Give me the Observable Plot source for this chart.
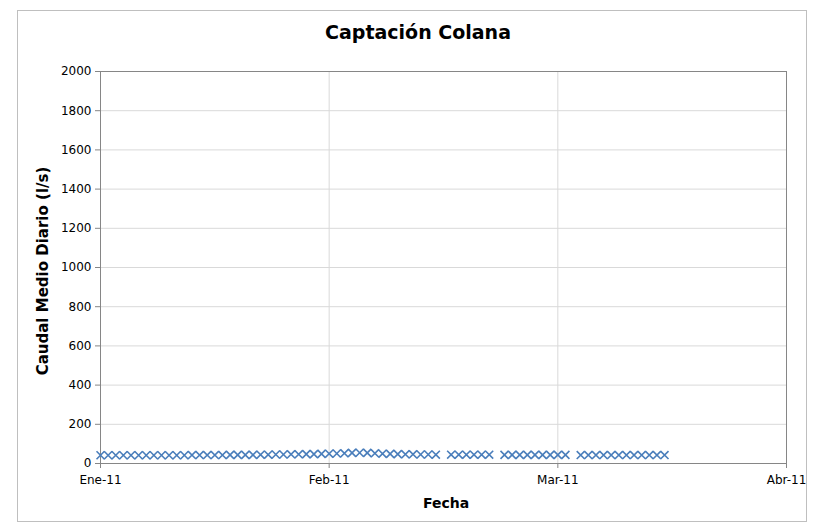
<!DOCTYPE html>
<html>
<head>
<meta charset="utf-8">
<script src="https://cdn.jsdelivr.net/npm/d3@7"></script>
<script src="https://cdn.jsdelivr.net/npm/@observablehq/plot@0.6"></script>
<style>
  body { margin: 0; background: #fff; }
  #wrap { position: relative; width: 819px; height: 530px; }
  #border { position: absolute; left: 17px; top: 10px; width: 790px; height: 512px; border: 1px solid #bfbfbf; box-sizing: border-box; }
  #chart { position: absolute; left: 0; top: 0; }
</style>
</head>
<body>
<div id="wrap"><div id="border"></div><div id="chart"></div></div>
<script>
const title = "Captación Colana";
const xLabel = "Fecha";
const yLabel = "Caudal Medio Diario (l/s)";

const dates = [
  "2011-01-02","2011-01-03","2011-01-04","2011-01-05","2011-01-06","2011-01-07","2011-01-08","2011-01-09","2011-01-10","2011-01-11",
  "2011-01-12","2011-01-13","2011-01-14","2011-01-15","2011-01-16","2011-01-17","2011-01-18","2011-01-19","2011-01-20","2011-01-21",
  "2011-01-22","2011-01-23","2011-01-24","2011-01-25","2011-01-26","2011-01-27","2011-01-28","2011-01-29","2011-01-30","2011-01-31",
  "2011-02-01","2011-02-02","2011-02-03","2011-02-04","2011-02-05","2011-02-06","2011-02-07","2011-02-08","2011-02-09","2011-02-10",
  "2011-02-11","2011-02-12","2011-02-13","2011-02-14","2011-02-15",
  "2011-02-17","2011-02-18","2011-02-19","2011-02-20","2011-02-21","2011-02-22",
  "2011-02-24","2011-02-25","2011-02-26","2011-02-27","2011-02-28","2011-03-01","2011-03-02","2011-03-03","2011-03-04",
  "2011-03-06","2011-03-07","2011-03-08","2011-03-09","2011-03-10","2011-03-11","2011-03-12","2011-03-13","2011-03-14","2011-03-15",
  "2011-03-16","2011-03-17"
];
const caudal = [
  42,42,42,42,42,42,42,42,42,42,
  42,42,43,43,43,43,43,44,44,44,
  44,45,45,46,46,47,47,48,48,49,
  50,51,52,54,55,54,52,50,49,48,
  47,47,46,46,45,
  45,45,45,45,45,45,
  44,44,44,44,44,44,44,44,44,
  43,43,43,43,43,43,43,43,43,43,
  43,43
];

const xTickDates = ["2011-01-02","2011-02-01","2011-03-03","2011-04-02"];
const xTickLabels = ["Ene-11","Feb-11","Mar-11","Abr-11"];
const xDomain = ["2011-01-02","2011-04-02"];
const yTicks = [0,200,400,600,800,1000,1200,1400,1600,1800,2000];

const data = dates.map((d, i) => ({date: new Date(d + "T00:00:00Z"), value: caudal[i]}));
const xt = xTickDates.map(d => new Date(d + "T00:00:00Z"));
const xFmt = (d) => xTickLabels[xt.findIndex(t => +t === +d)];

const font = "'DejaVu Sans', Verdana, sans-serif";

const chart = Plot.plot({
  width: 819,
  height: 530,
  marginLeft: 100,
  marginRight: 33,
  marginTop: 71,
  marginBottom: 67,
  style: {fontFamily: font, fontSize: "12px", color: "#000", background: "transparent"},
  x: {type: "utc", domain: xDomain.map(d => new Date(d + "T00:00:00Z")), ticks: xt, tickFormat: xFmt, label: null},
  y: {domain: [0, 2000], ticks: yTicks, tickFormat: d3.format("d"), label: null},
  marks: [
    Plot.gridY(yTicks.slice(1), {stroke: "#d9d9d9", strokeOpacity: 1}),
    Plot.gridX(xt.slice(1, 3), {stroke: "#d9d9d9", strokeOpacity: 1}),
    Plot.frame({stroke: "#868686"}),
    Plot.axisY(yTicks, {tickSize: 5, tickPadding: 4, stroke: "#868686", fontSize: 12, label: null, tickFormat: d3.format("d")}),
    Plot.axisX(xt, {tickSize: 5, tickPadding: 7, stroke: "#868686", fontSize: 12, label: null, tickFormat: xFmt}),
    Plot.dot(data, {x: "date", y: "value", symbol: "times", r: 3.7, stroke: "#4a7ebb", strokeWidth: 1.6})
  ]
});

const svg = d3.select(chart);
svg.append("text").attr("x", 418).attr("y", 39).attr("text-anchor", "middle")
  .attr("font-family", font).attr("font-weight", "bold").attr("font-size", 19).attr("fill", "#000").text(title);
svg.append("text").attr("x", 446).attr("y", 508).attr("text-anchor", "middle")
  .attr("font-family", font).attr("font-weight", "bold").attr("font-size", 14).attr("fill", "#000").text(xLabel);
svg.append("text").attr("transform", "translate(48,271) rotate(-90)").attr("text-anchor", "middle")
  .attr("font-family", font).attr("font-weight", "bold").attr("font-size", 15).attr("fill", "#000").text(yLabel);

document.getElementById("chart").appendChild(chart);
</script>
</body>
</html>
